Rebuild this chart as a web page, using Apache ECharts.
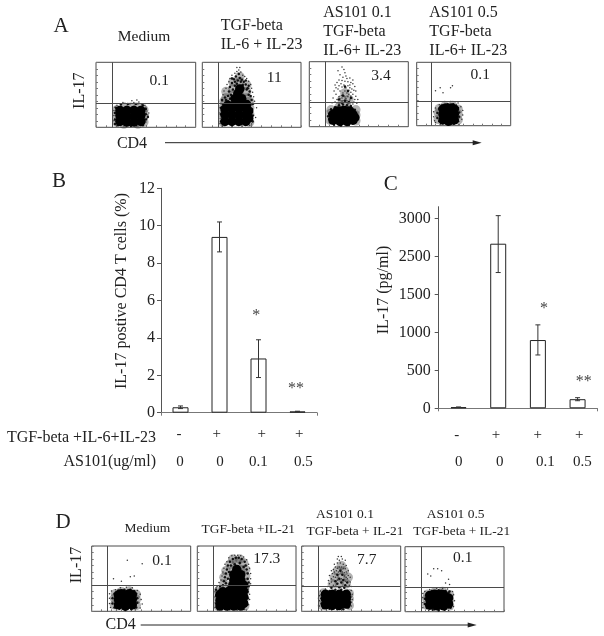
<!DOCTYPE html>
<html><head><meta charset="utf-8">
<style>html,body{margin:0;padding:0;background:#fff}#c{width:604px;height:636px}</style>
<script src="https://cdn.jsdelivr.net/npm/echarts@6/dist/echarts.min.js"></script>
</head><body><div id="c"></div>
<script>
// ---------- bar chart B ----------
const conditions = ['Medium','TGF-beta+IL-6+IL-23','AS101 0.1','AS101 0.5'];
const bValues = [0.29, 9.4, 2.9, 0.07];
const bUpper  = [0.36, 10.2, 3.9, 0.08];
const bLower  = [0.22, 8.6, 1.88, 0.06];
// ---------- bar chart C (values read against the printed tick labels) ----------
const cTickLabels = [0, 500, 1000, 1500, 2500, 3000];
const cValues = [15, 2670, 900, 120];
const cUpper  = [16, 3040, 1100, 140];
const cLower  = [14, 2080, 703, 100];
// ---------- row labels ----------
const treatmentMarks = ['-', '+', '+', '+'];
const doseLabels = ['0', '0', '0.1', '0.5'];
// ---------- flow cytometry events (percent of plot width / height) ----------
const a1Haze=[[21,8],[21,18],[21,27],[48,8],[48,18],[48,27],[28,30],[35,31],[42,31],[28,5],[42,5]];
const a1Core=[[24,9],[24,18],[24,26],[31,8],[31,17],[31,26],[38,8],[38,17],[38,26],[45,9],[45,18],[45,26]];
const a1Mid=[[19,12],[19,22],[20,30],[50,12],[50,20],[50,28],[25,35],[32,36],[40,36],[47,34],[22,3],[35,2],[47,3],[19,5],[52,16]];
const a1Dots=[[18,10],[18,18],[18,26],[19,6],[19,31],[20,4],[21,34],[24,3],[25,35],[28,2],[29,37],[33,3],[34,36],[38,38],[39,3],[42,36],[43,39],[45,4],[46,35],[50,8],[51,13],[52,19],[51,25],[50,31],[49,34],[53,22],[42,2],[27,38],[36,41],[41,42]];
const a2Haze=[[21,8],[21,20],[21,30],[48,8],[48,20],[48,30],[24,45],[24,55],[31,50],[31,60],[31,70],[38,50],[38,60],[38,70],[38,78],[45,45],[45,55],[45,65],[48,40],[22,40]];
const a2Core=[[23,9],[23,19],[23,28],[30,9],[30,19],[30,29],[37,9],[37,19],[37,29],[44,9],[44,19],[44,29],[47,14],[47,25],[26,34],[33,35],[40,35],[45,35],[33,44],[40,44],[36,52],[38,59]];
const a2Mid=[[24,42],[26,48],[27,55],[28,62],[30,68],[32,74],[34,78],[36,72],[38,76],[40,73],[42,70],[44,66],[46,60],[48,55],[49,48],[26,40],[29,50],[31,58],[33,64],[35,67],[39,70],[41,65],[45,58],[47,50],[23,46],[50,42],[28,44],[44,72],[30,75],[37,82],[33,70],[47,64],[20,42],[21,36],[51,36],[50,28],[51,18],[51,9],[19,30],[19,20],[19,9]];
const a2Dots=[[20,40],[21,50],[22,56],[24,60],[25,66],[27,70],[28,75],[30,80],[33,83],[35,86],[37,88],[39,85],[38,92],[41,80],[43,78],[45,75],[47,71],[49,66],[50,60],[51,54],[52,47],[53,40],[52,36],[35,92],[18,6],[18,14],[18,22],[18,30],[51,10],[52,18],[51,28],[20,2],[30,1],[40,2],[48,3],[50,5],[19,37],[55,30],[54,15]];
const a3Haze=[[21,10],[21,20],[22,26],[47,9],[47,18],[47,26],[30,30],[38,31],[33,42],[40,42],[36,52]];
const a3Core=[[24,10],[24,19],[31,8],[31,17],[31,24],[38,8],[38,17],[38,24],[44,10],[44,19],[46,14],[28,24],[35,25],[41,24]];
const a3Mid=[[20,12],[20,20],[21,7],[22,27],[26,30],[30,33],[34,34],[38,33],[42,32],[46,26],[48,18],[49,12],[47,7],[25,3],[32,2],[40,3],[19,16],[33,37],[36,40],[40,38],[34,48],[39,55],[36,62],[42,44],[30,42]];
const a3Dots=[[26,38],[28,42],[30,46],[27,50],[32,40],[33,44],[35,47],[37,43],[39,46],[41,41],[43,44],[45,38],[46,42],[47,47],[44,50],[42,53],[40,56],[38,52],[36,55],[34,52],[31,55],[29,58],[27,60],[30,63],[33,61],[35,64],[37,60],[39,63],[41,60],[43,58],[45,56],[46,62],[44,66],[42,68],[39,69],[36,70],[33,71],[30,72],[28,68],[26,64],[34,76],[37,78],[31,80],[36,83],[35,88],[33,92],[41,75],[44,72],[24,44],[23,37],[48,36],[49,42],[25,55],[38,74],[47,55],[29,86],[31,43],[36,38],[42,47],[38,40],[34,40],[28,37],[44,35],[30,36],[39,35],[33,48],[40,50],[36,60],[32,66],[41,64]];
const a4Haze=[[23,10],[23,20],[24,27],[44,9],[44,18],[44,26],[30,31],[38,32]];
const a4Core=[[28,9],[28,18],[28,26],[34,7],[34,16],[34,25],[40,9],[40,18],[40,26],[31,28],[37,28]];
const a4Mid=[[22,12],[22,20],[24,7],[24,27],[27,4],[33,2],[39,3],[44,7],[45,14],[45,21],[44,28],[27,32],[33,34],[39,34],[25,16]];
const a4Dots=[[18,14],[18,22],[19,8],[20,28],[20,5],[25,2],[45,2],[48,10],[49,17],[49,24],[47,30],[24,33],[42,33],[30,38],[36,38],[44,36],[25,60],[36,60],[38,63],[28,52],[20,55]];
const d1Haze=[[23,10],[23,20],[24,27],[45,9],[45,18],[45,26],[30,30],[38,31]];
const d1Core=[[27,10],[27,18],[27,25],[34,8],[34,17],[34,25],[41,10],[41,18],[41,25],[30,27],[38,27]];
const d1Mid=[[21,12],[21,20],[23,6],[23,27],[28,4],[34,2],[40,3],[45,6],[46,13],[46,20],[45,27],[27,32],[33,33],[39,33],[43,31]];
const d1Dots=[[18,12],[18,20],[18,27],[19,6],[20,31],[24,33],[29,36],[35,37],[41,36],[46,32],[49,26],[50,18],[51,11],[49,5],[25,2],[44,2],[36,78],[51,73],[22,50],[39,53],[43,54],[30,46]];
const d2Haze=[[21,8],[21,20],[21,30],[48,8],[48,20],[48,30],[27,42],[27,52],[29,62],[33,72],[40,76],[47,74],[49,64],[49,54],[49,44],[36,80],[43,80],[36,44],[43,44],[36,54],[43,54],[37,64],[44,64]];
const d2Core=[[23,8],[23,17],[23,26],[30,8],[30,17],[30,26],[37,8],[37,17],[37,26],[44,8],[44,17],[44,26],[47,12],[47,22],[47,31],[26,30],[33,32],[40,32],[36,40],[43,40],[47,40],[37,48],[44,48],[37,56],[44,56],[40,64]];
const d2Mid=[[26,40],[27,46],[28,52],[29,58],[30,64],[31,70],[33,76],[36,80],[39,82],[42,82],[45,80],[48,76],[49,70],[50,64],[51,58],[51,50],[52,44],[52,38],[23,38],[29,43],[31,50],[32,60],[34,70],[38,72],[43,74],[47,68],[19,12],[19,24],[19,33],[50,10],[51,20],[51,30]];
const d2Dots=[[20,38],[22,44],[24,48],[25,54],[26,60],[27,66],[28,72],[30,76],[32,82],[35,85],[38,86],[41,86],[44,85],[47,83],[50,79],[52,72],[53,66],[54,58],[54,50],[54,42],[18,6],[18,14],[18,22],[18,30],[52,10],[53,18],[53,26],[52,34],[19,36],[25,2],[33,2],[40,2],[48,3]];
const d3Haze=[[21,9],[21,20],[22,28],[48,9],[48,19],[48,27],[31,42],[38,42],[45,42],[33,52],[40,52],[47,52],[36,62],[43,62],[40,70]];
const d3Core=[[24,10],[24,19],[24,26],[31,9],[31,18],[31,26],[38,9],[38,18],[38,26],[45,11],[45,19],[45,26]];
const d3Mid=[[20,12],[20,20],[21,28],[22,6],[28,31],[34,33],[40,33],[46,31],[49,22],[49,14],[47,6],[28,4],[36,3],[42,3],[30,36],[38,37],[43,36],[36,42],[40,44],[44,40],[34,46],[38,50],[42,48],[46,44],[36,56],[41,56],[39,62]];
const d3Dots=[[26,38],[28,42],[30,45],[32,40],[34,38],[46,38],[48,40],[49,45],[30,50],[32,53],[34,52],[36,48],[40,50],[44,46],[46,50],[47,55],[45,52],[43,54],[31,58],[33,60],[35,62],[37,60],[41,60],[43,59],[45,60],[47,62],[44,65],[42,66],[40,68],[38,68],[36,66],[34,68],[32,64],[30,62],[33,72],[36,74],[39,74],[42,72],[45,70],[38,78],[41,80],[36,80],[44,78],[40,84],[37,84],[49,52],[28,55],[27,47],[50,38],[18,8],[18,16],[18,24],[19,31],[25,2],[50,8],[51,18],[51,26],[50,32],[24,34]];
const d4Haze=[[22,10],[22,20],[23,27],[45,9],[45,18],[45,26],[30,30],[38,31]];
const d4Core=[[25,10],[25,19],[25,25],[32,9],[32,18],[32,26],[39,9],[39,18],[39,26],[44,12],[44,21],[30,27],[37,27]];
const d4Mid=[[20,12],[20,20],[22,6],[22,27],[28,3],[34,2],[40,3],[46,6],[47,15],[47,24],[44,29],[27,32],[34,33],[41,32],[45,31]];
const d4Dots=[[18,6],[18,14],[18,22],[18,28],[20,31],[24,2],[44,2],[49,8],[50,17],[49,26],[48,31],[25,34],[32,36],[38,36],[43,35],[29,66],[33,66],[37,63],[26,55],[45,42],[41,44],[44,50],[23,58]];

const SERIF = '"Liberation Serif","Times New Roman",serif';
const INK = '#222';
const LINE = '#4a4a4a';

const panels = [
 {box:[96,62.3,99.7,65],   gate:[16.7,37.4], haze:a1Haze, core:a1Core, mid:a1Mid, dots:a1Dots},
 {box:[202.3,62.3,98.7,65],gate:[16.2,37.4], haze:a2Haze, core:a2Core, mid:a2Mid, dots:a2Dots},
 {box:[309.3,61.7,99,65],  gate:[16.2,37.4], haze:a3Haze, core:a3Core, mid:a3Mid, dots:a3Dots},
 {box:[416.7,62.3,94,63.4],gate:[15.6,38],   haze:a4Haze, core:a4Core, mid:a4Mid, dots:a4Dots},
 {box:[91.7,546,99,65.3],  gate:[16.2,39.2], haze:d1Haze, core:d1Core, mid:d1Mid, dots:d1Dots},
 {box:[197.3,546,98.7,65.3],gate:[16.2,39.2],haze:d2Haze, core:d2Core, mid:d2Mid, dots:d2Dots},
 {box:[301.7,546,99,65.3], gate:[16.7,38.8], haze:d3Haze, core:d3Core, mid:d3Mid, dots:d3Dots},
 {box:[405,546.7,99,65],   gate:[16.4,37.9], haze:d4Haze, core:d4Core, mid:d4Mid, dots:d4Dots}
];

const grid=[], xAxis=[], yAxis=[], series=[];
panels.forEach((p,i)=>{
  grid.push({left:p.box[0],top:p.box[1],width:p.box[2],height:p.box[3],show:true,borderColor:LINE,borderWidth:1,backgroundColor:'#fff'});
  const tick={show:true,inside:true,length:2,lineStyle:{color:'#777',width:1}};
  xAxis.push({gridIndex:i,type:'value',min:0,max:100,interval:10,axisLine:{show:false},axisTick:tick,axisLabel:{show:false},splitLine:{show:false}});
  yAxis.push({gridIndex:i,type:'value',min:0,max:100,interval:10,axisLine:{show:false},axisTick:tick,axisLabel:{show:false},splitLine:{show:false}});
  const s=(data,size,color,opacity)=>({type:'scatter',xAxisIndex:i,yAxisIndex:i,data,symbolSize:size,silent:true,itemStyle:{color,opacity},animation:false});
  series.push(s(p.haze,9.5,'#222',0.35));
  series.push(s(p.dots,1.5,'#333',1));
  series.push(s(p.mid,2.5,'#111',1));
  const c=s(p.core,9.5,'#000',1);
  c.markLine={silent:true,symbol:'none',animation:false,label:{show:false},lineStyle:{color:LINE,width:1,type:'solid'},data:[{xAxis:p.gate[0]},{yAxis:p.gate[1]}]};
  series.push(c);
});

// C axis is evenly spaced over its printed labels, so values are placed by tick position
const toTick=v=>{
  for(let k=0;k<cTickLabels.length-1;k++){
    if(v<=cTickLabels[k+1]) return k+(v-cTickLabels[k])/(cTickLabels[k+1]-cTickLabels[k]);
  }
  return cTickLabels.length-1+(v-cTickLabels[cTickLabels.length-1])/500;
};
const errSeries=(xi,data)=>({
  type:'custom',xAxisIndex:xi,yAxisIndex:xi,silent:true,animation:false,clip:false,z:5,
  data,encode:{x:0,y:[1,2]},
  renderItem:(params,api)=>{
    const lo=api.coord([api.value(0),api.value(1)]), hi=api.coord([api.value(0),api.value(2)]);
    const st={stroke:'#333',lineWidth:1,fill:null};
    return {type:'group',children:[
      {type:'line',shape:{x1:lo[0],y1:lo[1],x2:hi[0],y2:hi[1]},style:st},
      {type:'line',shape:{x1:lo[0]-2.5,y1:lo[1],x2:lo[0]+2.5,y2:lo[1]},style:st},
      {type:'line',shape:{x1:hi[0]-2.5,y1:hi[1],x2:hi[0]+2.5,y2:hi[1]},style:st}
    ]};
  }
});
const barAxisX=(gi)=>({gridIndex:gi,type:'category',data:conditions,boundaryGap:true,
  axisLine:{lineStyle:{color:'#777',width:1}},axisTick:{show:true,length:3,alignWithLabel:false,lineStyle:{color:'#777'}},axisLabel:{show:false},splitLine:{show:false}});
const barStyle={color:'#fff',borderColor:'#222',borderWidth:1};

// panel B
grid.push({left:161,top:188.3,width:156,height:224.4});
xAxis.push(barAxisX(8));
yAxis.push({gridIndex:8,type:'value',min:0,max:12,interval:2,axisLine:{show:true,lineStyle:{color:'#555'}},axisTick:{show:true,length:4,lineStyle:{color:'#555'}},
  axisLabel:{margin:6,color:INK,fontFamily:SERIF,fontSize:16},splitLine:{show:false}});
series.push({type:'bar',xAxisIndex:8,yAxisIndex:8,data:bValues,barWidth:16,itemStyle:barStyle,silent:true,animation:false});
series.push(errSeries(8,bValues.map((_,i)=>[i,bLower[i],bUpper[i]])));

// panel C
grid.push({left:438.7,top:206.7,width:158.7,height:201.6});
xAxis.push(barAxisX(9));
const cTickPos=cTickLabels.map((_,i)=>i);
yAxis.push({gridIndex:9,type:'value',min:0,max:5.316,axisLine:{show:true,lineStyle:{color:'#555'}},
  axisTick:{show:true,length:4,lineStyle:{color:'#555'},customValues:cTickPos},
  axisLabel:{margin:8,color:INK,fontFamily:SERIF,fontSize:16,customValues:cTickPos,formatter:v=>String(cTickLabels[v])},splitLine:{show:false}});
series.push({type:'bar',xAxisIndex:9,yAxisIndex:9,data:cValues.map(toTick),barWidth:16,itemStyle:barStyle,silent:true,animation:false});
series.push(errSeries(9,cValues.map((_,i)=>[i,toTick(cLower[i]),toTick(cUpper[i])])));

// text
const T=(text,x,y,size,opt={})=>({type:'text',x,y,rotation:opt.rot||0,silent:true,z:20,style:{
  text,fill:opt.fill||INK,font:size+'px '+SERIF,textAlign:opt.align||'center',textVerticalAlign:'middle',align:opt.align||'center',verticalAlign:'middle'}});
const arrow=(x1,x2,y)=>[
  {type:'line',silent:true,z:20,shape:{x1,y1:y,x2:x2-4,y2:y},style:{stroke:'#222',lineWidth:1}},
  {type:'polygon',silent:true,z:20,shape:{points:[[x2,y],[x2-9,y-2.5],[x2-9,y+2.5]]},style:{fill:'#222'}}
];
const L=Math.PI/2;
const texts=[
 T('A',61,26,21),T('B',59,181,21),T('C',390.7,184,21),T('D',63,522,21),
 T('Medium',144,36.7,15.5),
 T('TGF-beta',220.7,25.7,16,{align:'left'}),T('IL-6 + IL-23',220.7,44.7,16,{align:'left'}),
 T('AS101 0.1',323.3,12.7,16,{align:'left'}),T('TGF-beta',323.3,31.3,16,{align:'left'}),T('IL-6+ IL-23',323.3,50.7,16,{align:'left'}),
 T('AS101 0.5',429.3,12.7,16,{align:'left'}),T('TGF-beta',429.3,31.3,16,{align:'left'}),T('IL-6+ IL-23',429.3,50.7,16,{align:'left'}),
 T('0.1',159.3,81,15.5),T('11',274.3,78.3,15.5),T('3.4',381,75.7,15.5),T('0.1',480.3,74.7,15.5),
 T('IL-17',80,90.7,16,{rot:L}),T('CD4',132,143.3,16),
 ...arrow(165,481.7,142.7),
 T('IL-17 postive CD4 T cells (%)',121.7,291,16,{rot:L}),
 T('TGF-beta +IL-6+IL-23',156,437.3,16,{align:'right'}),T('AS101(ug/ml)',156,461.7,16,{align:'right'}),
 T('IL-17 (pg/ml)',383.3,290,16,{rot:L}),
 T('*',256.3,316,16,{fill:'#444'}),T('**',296,389,16,{fill:'#444'}),
 T('*',544,309,16,{fill:'#444'}),T('**',583.7,382,16,{fill:'#444'}),
 T('Medium',147.3,528.3,13.5),T('TGF-beta +IL-21',248.3,529.3,13.4),
 T('AS101 0.1',345,514,13.5),T('TGF-beta + IL-21',355,531,13.4),
 T('AS101 0.5',455.7,514,13.5),T('TGF-beta + IL-21',461.7,531,13.4),
 T('0.1',162,561,15.5),T('17.3',266.7,559.3,15.5),T('7.7',366.7,560,15.5),T('0.1',462.7,558.3,15.5),
 T('IL-17',76.7,565,16,{rot:L}),T('CD4',120.7,624.3,16),
 ...arrow(140.7,476.7,625)
];
[179,216.7,261.7,299.3].forEach((x,i)=>texts.push(T(treatmentMarks[i],x,434,15)));
[180,220,258.3,303.3].forEach((x,i)=>texts.push(T(doseLabels[i],x,462.3,15)));
[456.7,496,537.7,579.3].forEach((x,i)=>texts.push(T(treatmentMarks[i],x,435.3,15)));
[458.7,499.7,545.3,582.3].forEach((x,i)=>texts.push(T(doseLabels[i],x,462.3,15)));

const chart=echarts.init(document.getElementById('c'),null,{renderer:'canvas'});
chart.setOption({backgroundColor:'#fff',animation:false,grid,xAxis,yAxis,series,graphic:{elements:texts}});
</script></body></html>
